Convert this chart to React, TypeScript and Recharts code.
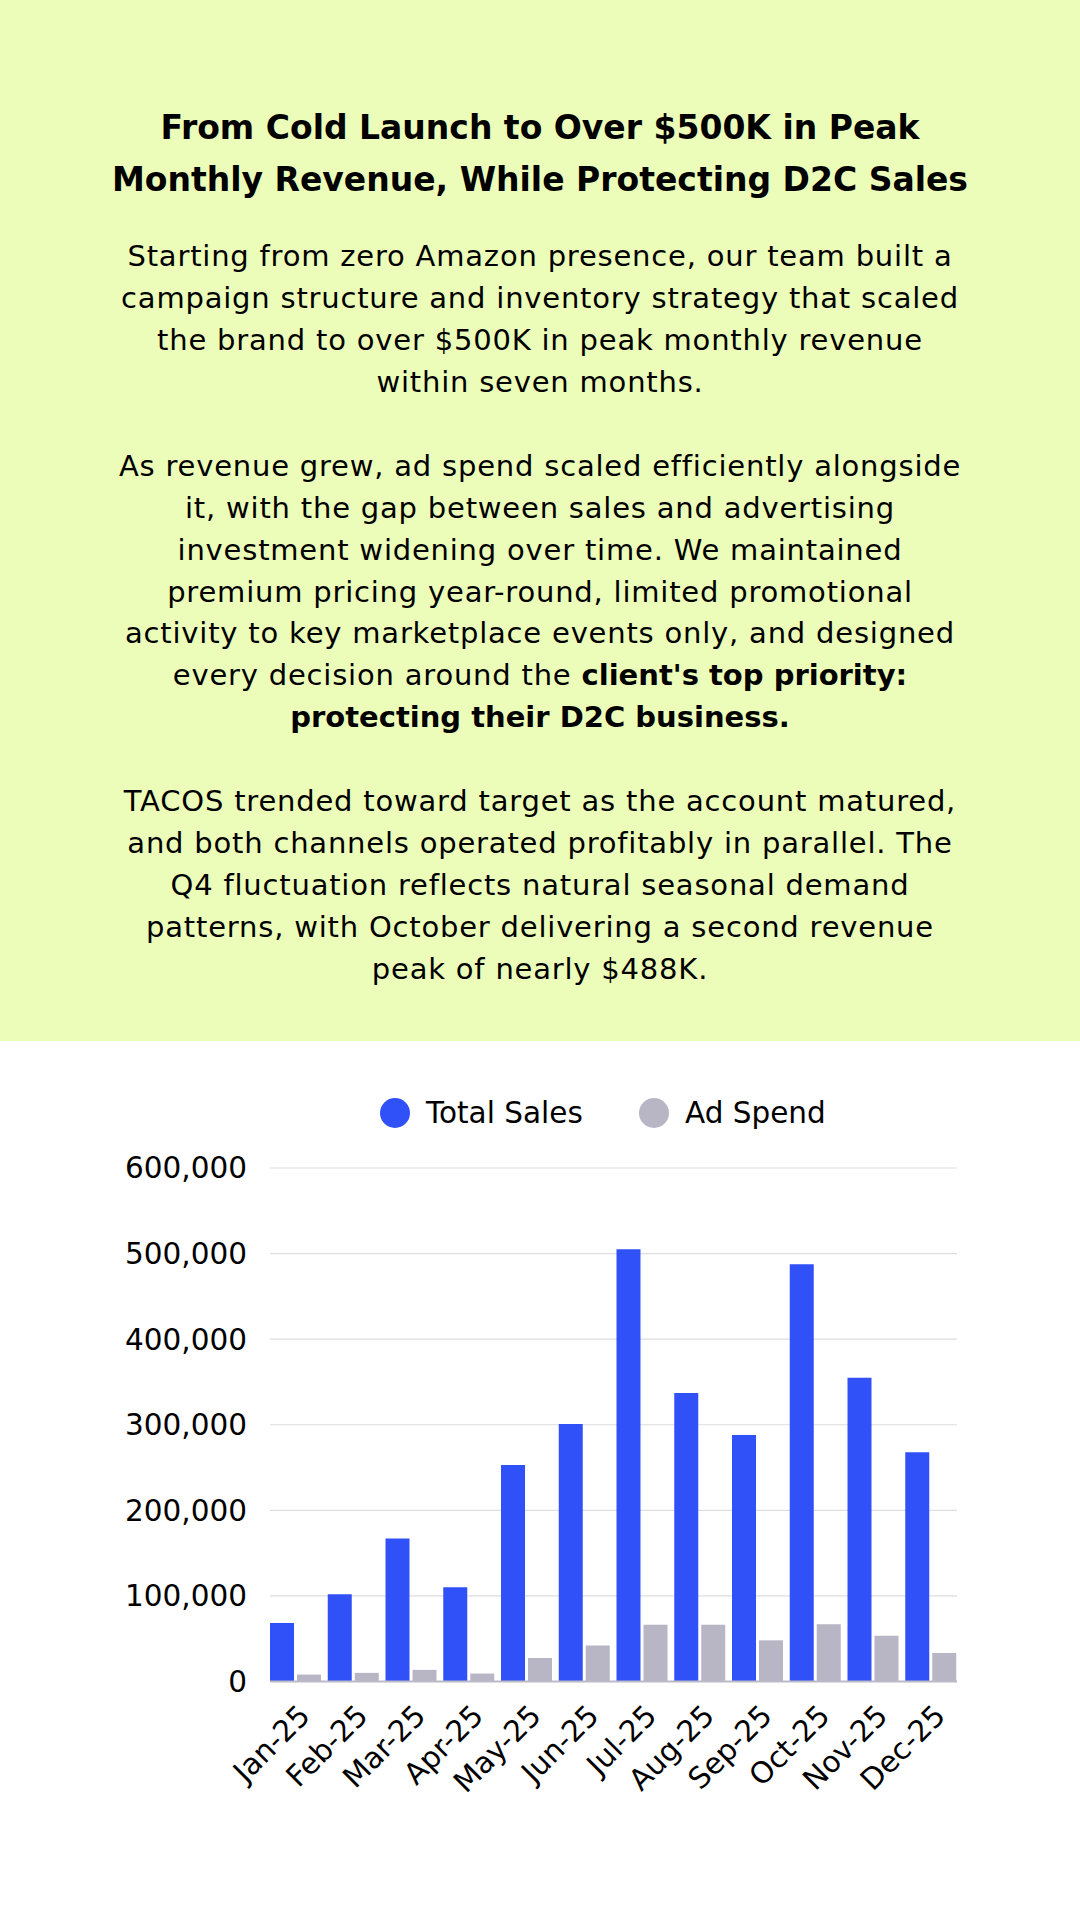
import React from 'react';
import { BarChart, Bar, XAxis, YAxis, CartesianGrid, Legend } from 'recharts';

const months = ['Jan-25', 'Feb-25', 'Mar-25', 'Apr-25', 'May-25', 'Jun-25', 'Jul-25', 'Aug-25', 'Sep-25', 'Oct-25', 'Nov-25', 'Dec-25'];
const totalSales = [68500, 102000, 167000, 110000, 253000, 301000, 505000, 337000, 288000, 487500, 355000, 268000];
const adSpend = [8100, 10100, 13600, 9300, 27500, 42200, 66300, 66300, 48100, 67000, 53500, 33300];
const yTicks = [0, 100000, 200000, 300000, 400000, 500000, 600000];
const seriesNames = ['Total Sales', 'Ad Spend'];
const seriesColors = ['#3050F8', '#B8B5C4'];

const titleLines = [
  'From Cold Launch to Over $500K in Peak',
  'Monthly Revenue, While Protecting D2C Sales',
];

// each line: [regular text, bold text]
const bodyLines: [string, string][] = [
  ['Starting from zero Amazon presence, our team built a', ''],
  ['campaign structure and inventory strategy that scaled', ''],
  ['the brand to over $500K in peak monthly revenue', ''],
  ['within seven months.', ''],
  ['', ''],
  ['As revenue grew, ad spend scaled efficiently alongside', ''],
  ['it, with the gap between sales and advertising', ''],
  ['investment widening over time. We maintained', ''],
  ['premium pricing year-round, limited promotional', ''],
  ['activity to key marketplace events only, and designed', ''],
  ['every decision around the ', "client's top priority:"],
  ['', 'protecting their D2C business.'],
  ['', ''],
  ['TACOS trended toward target as the account matured,', ''],
  ['and both channels operated profitably in parallel. The', ''],
  ['Q4 fluctuation reflects natural seasonal demand', ''],
  ['patterns, with October delivering a second revenue', ''],
  ['peak of nearly $488K.', ''],
];

const data = months.map((m, i) => ({ month: m, sales: totalSales[i], ad: adSpend[i] }));

const FONT = '"DejaVu Sans", "Noto Sans", sans-serif';

const XTick = (props: any) => {
  const { x, y, payload } = props;
  const ax = x + 16;
  const ay = y + 36;
  return (
    <text
      x={ax}
      y={ay}
      transform={`rotate(-45, ${ax}, ${ay})`}
      textAnchor="end"
      fontSize={29.5}
      fontFamily={FONT}
      fill="#000"
    >
      {payload.value}
    </text>
  );
};

const renderLegend = () => (
  <div style={{ display: 'flex', alignItems: 'center', height: 40, paddingLeft: 380, fontFamily: FONT, fontSize: 29.5, color: '#000' }}>
    {seriesNames.map((n, i) => (
      <div key={n} style={{ display: 'flex', alignItems: 'center', width: i === 0 ? 259 : 'auto' }}>
        <span style={{ width: 30, height: 30, borderRadius: '50%', background: seriesColors[i], marginRight: 16, display: 'inline-block' }} />
        <span>{n}</span>
      </div>
    ))}
  </div>
);

export default function App() {
  return (
    <div style={{ position: 'relative', width: 1080, height: 1920, background: '#fff', fontFamily: FONT, overflow: 'hidden' }}>
      <style>{'body{margin:0;}'}</style>
      <div style={{ position: 'absolute', top: 0, left: 0, width: 1080, height: 1041, background: '#EBFDB9' }}>
        <div style={{ position: 'absolute', top: 102, left: 0, width: 1080, textAlign: 'center', fontWeight: 700, fontSize: 33, lineHeight: '52px', color: '#000' }}>
          {titleLines.map((t) => (
            <div key={t}>{t}</div>
          ))}
        </div>
        <div style={{ position: 'absolute', top: 236, left: 0, width: 1080, textAlign: 'center', fontSize: 29, letterSpacing: 0.8, lineHeight: '41.95px', color: '#000' }}>
          {bodyLines.map((l, i) => (
            <div key={i} style={{ height: 41.95, whiteSpace: 'pre' }}>
              {l[0]}
              {l[1] ? <b style={{ fontWeight: 700, letterSpacing: 0 }}>{l[1]}</b> : null}
            </div>
          ))}
        </div>
      </div>
      <div style={{ position: 'absolute', top: 1041, left: 0 }}>
        <BarChart
          width={1080}
          height={879}
          data={data}
          margin={{ top: 127, right: 123, left: 0, bottom: 138.5 }}
          barCategoryGap={3}
          barGap={3}
        >
          <CartesianGrid vertical={false} stroke="#dddddd" strokeWidth={1.2} />
          <XAxis
            dataKey="month"
            padding={{ left: -3, right: -3 }}
            axisLine={{ stroke: '#bdbac8', strokeWidth: 2 }}
            tickLine={false}
            tickSize={0}
            tickMargin={0}
            height={100}
            interval={0}
            tick={(p: any) => <XTick {...p} />}
          />
          <YAxis
            width={270}
            domain={[0, 600000]}
            ticks={yTicks}
            axisLine={false}
            tickLine={false}
            tickSize={0}
            tickMargin={23}
            tick={{ fontSize: 29.5, fill: '#000', fontFamily: FONT }}
            tickFormatter={(v: number) => v.toLocaleString('en-US')}
          />
          <Legend
            layout="horizontal"
            verticalAlign="middle"
            align="center"
            content={renderLegend}
            wrapperStyle={{ top: 52, left: 0, width: 1080, height: 40 }}
          />
          <Bar dataKey="sales" name={seriesNames[0]} fill={seriesColors[0]} isAnimationActive={false} />
          <Bar dataKey="ad" name={seriesNames[1]} fill={seriesColors[1]} isAnimationActive={false} />
        </BarChart>
      </div>
    </div>
  );
}
